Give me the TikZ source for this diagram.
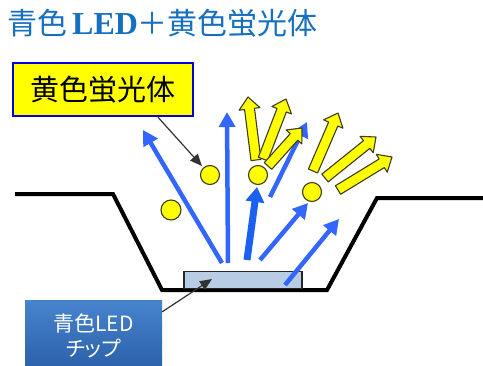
\documentclass[tikz,border=0pt]{standalone}
\usepackage{fontspec}
\usetikzlibrary{arrows.meta,calc}

\newfontfamily\jpfont{Noto Sans CJK JP}
\newfontfamily\jppfont{Noto Sans CJK JP}[RawFeature=+palt]
\newfontfamily\ledserif{Liberation Serif}

\definecolor{titleblue}{RGB}{22,112,192}
\definecolor{rayblue}{RGB}{51,102,255}
\definecolor{raydeep}{RGB}{28,96,242}
\definecolor{chipfill}{RGB}{184,204,228}
\definecolor{phosphor}{RGB}{255,255,0}
\definecolor{phosedge}{RGB}{60,60,30}
\definecolor{labeledge}{RGB}{0,0,225}
\definecolor{boxtop}{RGB}{72,132,206}
\definecolor{boxbottom}{RGB}{42,94,168}

% block arrow of emitted yellow light: #1 id, #2 base point, #3 tip point
\newcommand\fatarrow[3]{%
  \coordinate (#1-b) at (#2);
  \coordinate (#1-t) at (#3);
  \coordinate (#1-h) at ($(#1-t)!12pt!(#1-b)$);
  \draw[yellowray]
    ($(#1-b)!5pt!90:(#1-t)$) -- ($(#1-h)!5pt!90:(#1-t)$) --
    ($(#1-h)!10.5pt!90:(#1-t)$) -- (#1-t) --
    ($(#1-h)!10.5pt!-90:(#1-t)$) -- ($(#1-h)!5pt!-90:(#1-t)$) --
    ($(#1-b)!5pt!-90:(#1-t)$) -- cycle;
}

\begin{document}
\begin{tikzpicture}[x=1pt,y=-1pt,
  ground/.style={line width=4pt, black},
  chipbox/.style={draw=black!85, line width=1.2pt, fill=chipfill,
    minimum width=118pt, minimum height=17pt, inner sep=0pt},
  ray/.style={rayblue, line width=4.5pt, -{Triangle[width=16pt,length=15pt]}},
  thickray/.style={raydeep, line width=7pt, -{Triangle[width=18pt,length=15pt]}},
  yellowray/.style={fill=phosphor, draw=phosedge, line width=1.1pt, line join=round},
  dot/.style={circle, fill=phosphor, draw=phosedge, line width=1.1pt,
    minimum size=19pt, inner sep=0pt},
  pointer/.style={draw=black!80, line width=1.2pt,
    -{Triangle[width=10pt,length=12pt]}},
  labelbox/.style={fill=phosphor, draw=labeledge, line width=2.5pt,
    minimum width=180pt, minimum height=53pt, inner sep=0pt,
    font=\jpfont\fontsize{29}{33}\selectfont},
  ledbox/.style={top color=boxtop, bottom color=boxbottom, draw=none,
    minimum width=137pt, minimum height=72pt, inner sep=0pt, align=center,
    text=white, font=\jppfont\fontsize{21}{25}\selectfont}
]
\useasboundingbox (0,0) rectangle (483,365);
\fill[white] (0,0) rectangle (483,365);

% heading
\node[anchor=base west, inner sep=0pt, text=titleblue] (title) at (7,34)
  {\jpfont\fontsize{30}{33}\selectfont 青色\hspace{5pt}{\ledserif\bfseries\fontsize{32}{33}\selectfont LED}＋黄色蛍光体};

% package cavity outline
\coordinate (g1) at (15,194);
\coordinate (g2) at (113,194);
\coordinate (g3) at (162,290);
\coordinate (g4) at (327,290);
\coordinate (g5) at (377,198);
\coordinate (g6) at (486,198);
\draw[ground] (g1) -- (g2) -- (g3) -- (g4) -- (g5) -- (g6);

% LED chip
\node[chipbox] (chip) at (243,280) {};

% blue emission
\coordinate (r1s) at (222,263); \coordinate (r1e) at (143,130);
\coordinate (r2s) at (228,263); \coordinate (r2e) at (227,112);
\coordinate (r3s) at (247,260); \coordinate (r3e) at (257,187);
\coordinate (r4s) at (270,197); \coordinate (r4e) at (307,122);
\coordinate (r5s) at (260,260); \coordinate (r5e) at (308,203);
\coordinate (r6s) at (285,285); \coordinate (r6e) at (339,219);
\draw[ray] (r1s) -- (r1e);
\draw[ray] (r2s) -- (r2e);
\draw[thickray] (r3s) -- (r3e);
\draw[ray] (r4s) -- (r4e);
\draw[ray] (r5s) -- (r5e);
\draw[ray] (r6s) -- (r6e);

% yellow emission from the phosphor
\fatarrow{ya}{256,160}{248,97}
\fatarrow{yb}{263,159}{286,99}
\fatarrow{yc}{268,166}{302,128}
\fatarrow{yd}{313,171}{338,113}
\fatarrow{ye}{325,178}{376,137}
\fatarrow{yf}{338,190}{392,157}

% phosphor particles
\node[dot] (p1) at (210,175) {};
\node[dot] (p2) at (258,175) {};
\node[dot] (p3) at (312,192) {};
\node[dot, minimum size=20pt] (p4) at (171,210) {};

% callouts
\node[labelbox] (label) at (103,89.5) {黄色蛍光体};
\draw[pointer, shorten >=2pt] ([xshift=55pt]label.south) -- (p1);

\node[ledbox] (ledbox) at (93.5,336) {青色LED\\チップ};
\coordinate (chipspot) at (212,279);
\draw[pointer] ([yshift=-12pt]ledbox.north east) -- (chipspot);
\end{tikzpicture}
\end{document}
